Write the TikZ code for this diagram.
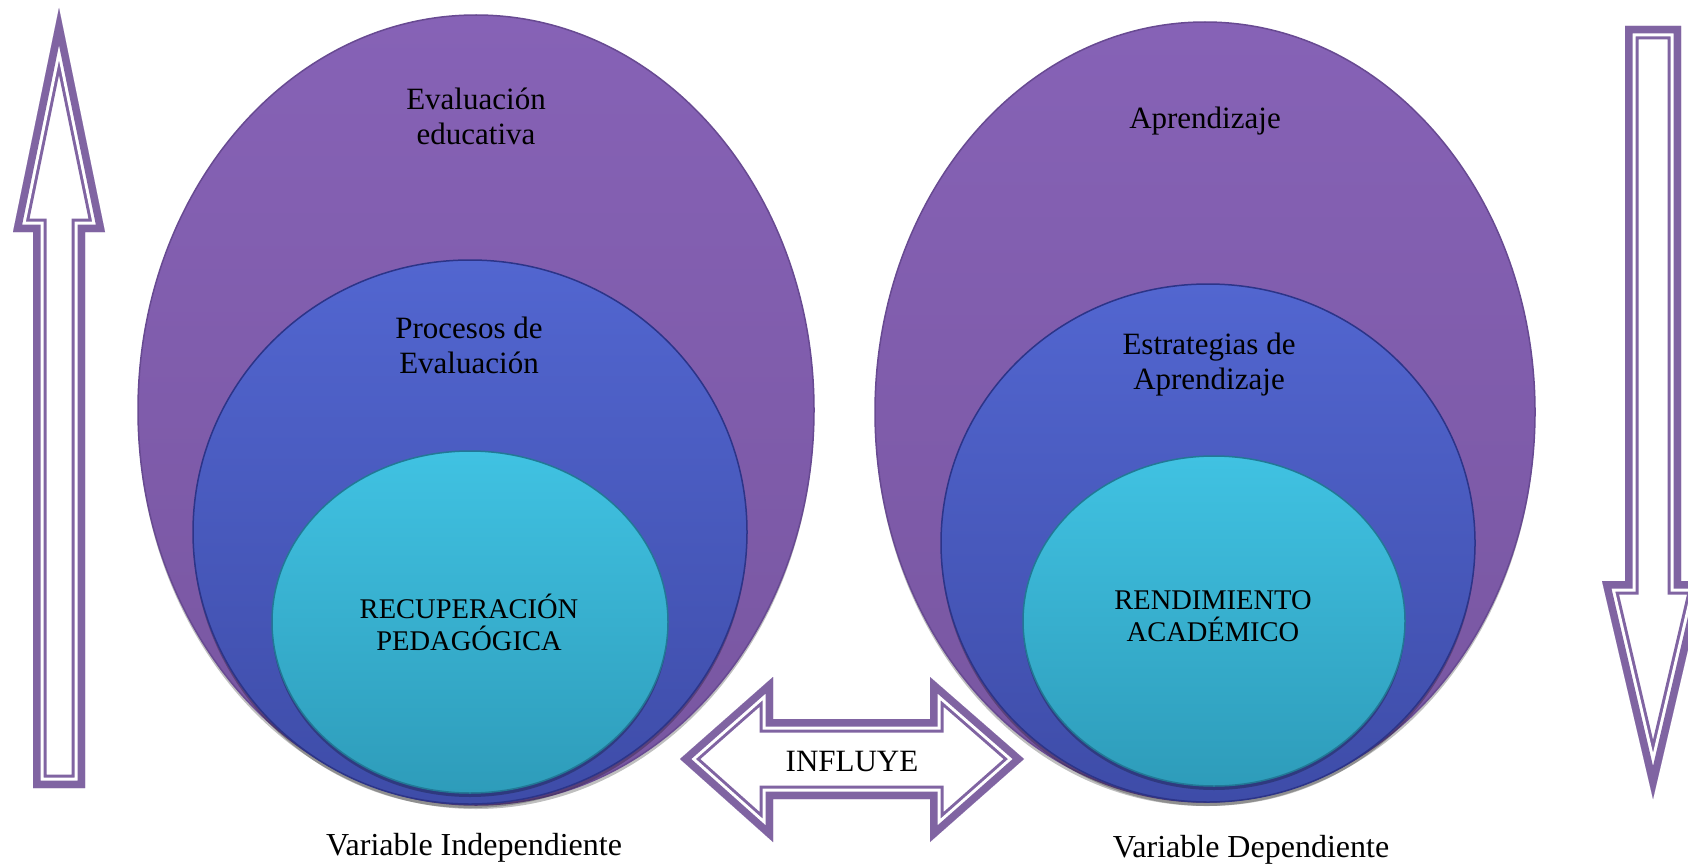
\documentclass[tikz,border=0pt]{standalone}
\usepackage{fontspec}
\setmainfont{Liberation Serif}
\usetikzlibrary{shapes.geometric,shadows}
\definecolor{arrowpurple}{RGB}{128,100,162}
\definecolor{purpleTop}{RGB}{134,98,182}
\definecolor{purpleBot}{RGB}{120,86,160}
\definecolor{purpleEdge}{RGB}{104,74,146}
\definecolor{blueTop}{RGB}{82,102,208}
\definecolor{blueBot}{RGB}{62,76,168}
\definecolor{blueEdge}{RGB}{44,52,136}
\definecolor{cyanTop}{RGB}{64,194,226}
\definecolor{cyanBot}{RGB}{46,156,186}
\definecolor{cyanEdge}{RGB}{34,120,150}
\newcommand{\triplearrow}[1]{%
  \begin{scope}
    \clip #1;
    \fill[white] #1;
    \draw[line width=27pt, arrowpurple, line join=miter] #1;
    \draw[line width=21pt, white, line join=miter] #1;
    \draw[line width=15pt, arrowpurple, line join=miter] #1;
  \end{scope}}
\begin{document}
\begin{tikzpicture}[x=1pt,y=-1pt,
  blob/.style={ellipse, inner sep=0pt, line width=1.5pt,
    drop shadow={shadow xshift=0pt, shadow yshift=-4pt, opacity=.25, fill=black}},
  outerblob/.style={blob, top color=purpleTop, bottom color=purpleBot, draw=purpleEdge},
  midblob/.style={blob, top color=blueTop, bottom color=blueBot, draw=blueEdge},
  innerblob/.style={blob, top color=cyanTop, bottom color=cyanBot, draw=cyanEdge},
  lbl/.style={font=\fontsize{31}{35}\selectfont, align=center, text=black, inner sep=0pt},
  caplbl/.style={font=\fontsize{32}{36}\selectfont, align=center, text=black, inner sep=0pt},
  capslbl/.style={font=\fontsize{28.5}{32}\selectfont, align=center, text=black, inner sep=0pt}]
\useasboundingbox (0,0) rectangle (1688,864);
\fill[white] (0,0) rectangle (1688,864);

% left set of ellipses
\node[outerblob, minimum width=676pt, minimum height=790pt] (outerL) at (476,410) {};
\node[midblob, minimum width=554pt, minimum height=544pt] (midL) at (470,532) {};
\node[innerblob, minimum width=396pt, minimum height=342pt] (innerL) at (470,622) {};

% right set of ellipses
\node[outerblob, minimum width=660pt, minimum height=780pt] (outerR) at (1205,412) {};
\node[midblob, minimum width=534pt, minimum height=518pt] (midR) at (1208,543) {};
\node[innerblob, minimum width=382pt, minimum height=330pt] (innerR) at (1214,621) {};

% labels
\node[lbl] (tEval) at (476,116) {Evaluación\\educativa};
\node[lbl] (tProc) at (469,345) {Procesos de\\Evaluación};
\node[capslbl] (tRecu) at (469,622) {RECUPERACIÓN\\PEDAGÓGICA};
\node[lbl] (tApre) at (1205,121) {Aprendizaje};
\node[lbl] (tEstr) at (1209,365) {Estrategias de\\Aprendizaje};
\node[capslbl] (tRend) at (1213,616) {RENDIMIENTO\\ACADÉMICO};

% side arrows
\triplearrow{(59,8) -- (105,232) -- (85,232) -- (85,788) -- (33,788) -- (33,232) -- (13,232) -- cycle}
\triplearrow{(1625,26) -- (1681,26) -- (1681,581) -- (1704,581) -- (1653,799) -- (1602,581) -- (1625,581) -- cycle}

% double arrow
\triplearrow{(680,759) -- (773,677) -- (773,719) -- (930,719) -- (930,677) -- (1024,759) -- (930,842) -- (930,799) -- (773,799) -- (773,842) -- cycle}
\node[lbl] (tInfl) at (852,761) {INFLUYE};

% captions
\node[caplbl] (tVarI) at (474,848) {Variable Independiente};
\node[caplbl] (tVarD) at (1251,850) {Variable Dependiente};
\end{tikzpicture}
\end{document}
